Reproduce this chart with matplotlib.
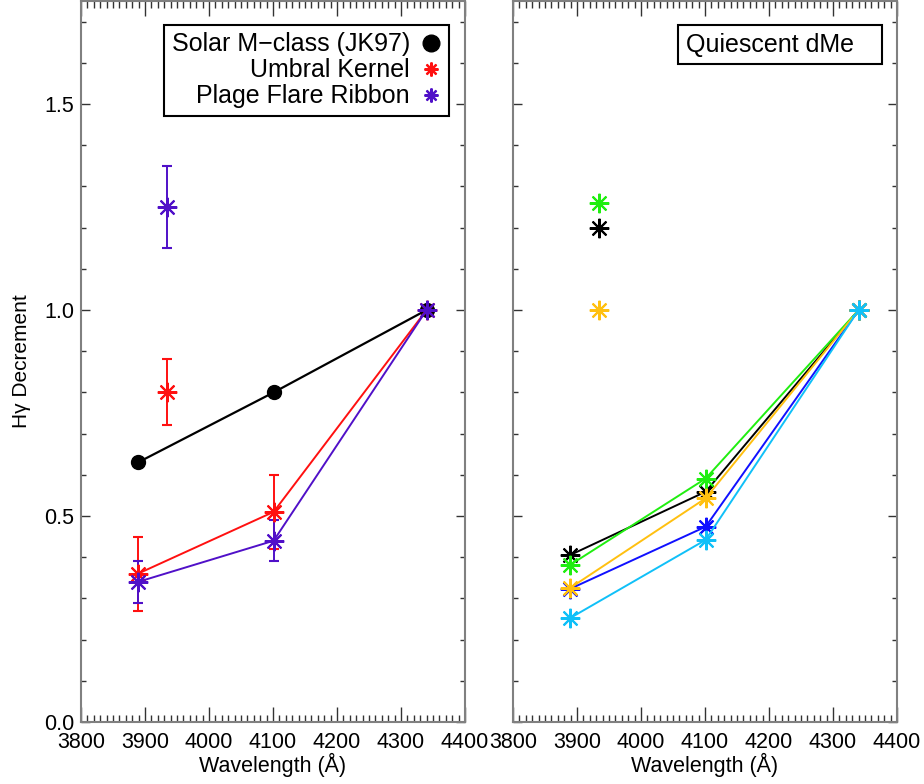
import numpy as np
import matplotlib
matplotlib.use("Agg")
import matplotlib.pyplot as plt
from matplotlib.lines import Line2D
from matplotlib.ticker import MultipleLocator, FormatStrFormatter

plt.rcParams['font.family'] = ['Liberation Sans', 'DejaVu Sans']

# wavelengths of the balmer lines and the Ca II K point
wave = [3889, 4101, 4340]
wave_k = 3934

# left panel
solar = [0.63, 0.80, 1.00]
umbral = [0.36, 0.51, 1.00]
umbral_err = [0.09, 0.09, 0.0]
umbral_k, umbral_k_err = 0.80, 0.08
plage = [0.34, 0.44, 1.00]
plage_err = [0.05, 0.05, 0.0]
plage_k, plage_k_err = 1.25, 0.10

# right panel: quiescent dMe stars
dme_names = ['black', 'blue', 'green', 'orange', 'lightblue']
dme_colors = ['#000000', '#1010ff', '#20ee10', '#ffc010', '#10c0f8']
dme_vals = [
    [0.405, 0.559, 1.0],
    [0.323, 0.474, 1.0],
    [0.381, 0.591, 1.0],
    [0.325, 0.543, 1.0],
    [0.252, 0.442, 1.0],
]
dme_k = {'green': 1.26, 'black': 1.20, 'orange': 1.00}

red = '#ff1010'
purple = '#5010c8'
star = (8, 2, 0)

fig = plt.figure(figsize=(9.24, 7.84), dpi=100)
ax1 = fig.add_axes([81/924, 62/784, 384/924, 721/784])
ax2 = fig.add_axes([513/924, 62/784, 384/924, 721/784])

def style(ax, ylabels=True):
  ax.set_xlim(3800, 4400)
  ax.set_ylim(0, 1.75)
  ax.xaxis.set_major_locator(MultipleLocator(100))
  ax.xaxis.set_minor_locator(MultipleLocator(10))
  ax.yaxis.set_major_locator(MultipleLocator(0.5))
  ax.yaxis.set_minor_locator(MultipleLocator(0.1))
  ax.yaxis.set_major_formatter(FormatStrFormatter('%.1f'))
  ax.tick_params(which='both', direction='in', top=True, right=True, color='#333333', width=1)
  ax.tick_params(axis='x', which='major', length=11)
  ax.tick_params(axis='x', which='minor', length=5)
  ax.tick_params(axis='y', which='major', length=6.5)
  ax.tick_params(axis='y', which='minor', length=3.6)
  ax.tick_params(axis='y', labelsize=15.5, labelleft=ylabels, pad=5)
  ax.tick_params(axis='x', labelsize=15.5, pad=7)
  for sp in ax.spines.values():
    sp.set_color('#808080')
    sp.set_linewidth(1.5)
  ax.set_xlabel('Wavelength (Å)', fontsize=15.5, labelpad=0)

style(ax1)
style(ax2, ylabels=False)
ax1.set_ylabel('H\u03b3 Decrement', fontsize=15, labelpad=9)

# left panel
ax1.plot(wave, solar, color='black', lw=1.6, marker='o', ms=10)
ax1.errorbar(wave, umbral, yerr=umbral_err, color=red, lw=1.4, marker=star, ms=14, mew=1.5, capsize=3.5, capthick=1.4)
ax1.errorbar([wave_k], [umbral_k], yerr=[umbral_k_err], color=red, lw=1.4, ls='none', marker=star, ms=14, mew=1.5, capsize=3.5, capthick=1.4)
ax1.errorbar(wave, plage, yerr=plage_err, color=purple, lw=1.4, marker=star, ms=14, mew=1.5, capsize=3.5, capthick=1.4)
ax1.errorbar([wave_k], [plage_k], yerr=[plage_k_err], color=purple, lw=1.4, ls='none', marker=star, ms=14, mew=1.5, capsize=3.5, capthick=1.4)

handles = [
  Line2D([], [], ls='none', marker='o', color='black', ms=12),
  Line2D([], [], ls='none', marker=star, color=red, ms=10, mew=1.6),
  Line2D([], [], ls='none', marker=star, color=purple, ms=10, mew=1.6),
]
labels = ['Solar M\u2212class (JK97)', 'Umbral Kernel', 'Plage Flare Ribbon']
leg = ax1.legend(handles, labels, loc='upper right', bbox_to_anchor=(0.958, 0.967), borderaxespad=0,
                 markerfirst=False, fontsize=18, handlelength=0.8, handletextpad=0.45,
                 labelspacing=0.08, borderpad=0.3, fancybox=False, framealpha=1, edgecolor='black')
leg.get_frame().set_linewidth(1.5)
for col in leg._legend_handle_box.get_children():
  col.align = 'right'

# right panel
for name, col, vals in zip(dme_names, dme_colors, dme_vals):
  ax2.plot(wave, vals, color=col, lw=1.4, marker=star, ms=14, mew=1.5)
  if name in dme_k:
    ax2.plot([wave_k], [dme_k[name]], color=col, ls='none', marker=star, ms=14, mew=1.5)

ax2.text(0.942, 0.956, 'Quiescent dMe   ', transform=ax2.transAxes, ha='right', va='top', fontsize=18,
         bbox=dict(boxstyle='square,pad=0.3', fc='white', ec='black', lw=1.5))

fig.savefig('out.png', dpi=100)
